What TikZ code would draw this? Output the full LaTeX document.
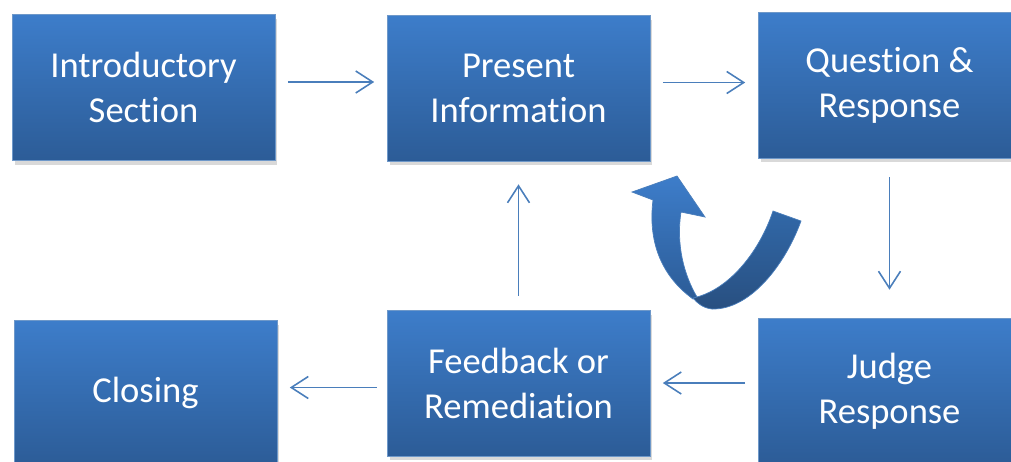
\documentclass[tikz,border=0pt]{standalone}
\usepackage{fontspec}
\setmainfont{Carlito}[Ligatures={NoCommon,NoContextual}]
\usetikzlibrary{positioning}
\usetikzlibrary{arrows.meta}
\usetikzlibrary{shadows}
\definecolor{boxtop}{HTML}{3D7DCA}
\definecolor{boxbot}{HTML}{2C5C97}
\definecolor{linkblue}{HTML}{4A7EBB}
\definecolor{bandtop}{HTML}{3168A8}
\definecolor{bandbot}{HTML}{284F80}
\tikzset{
    stagebox/.style = {rectangle, draw=linkblue!80, line width=0.4pt, top color=boxtop, bottom color=boxbot, minimum width=5.26cm, minimum height=2.92cm, align=center, text=white, font=\fontsize{20.8}{25.6}\selectfont, drop shadow={shadow xshift=0.5mm, shadow yshift=-0.9mm, opacity=0.3}},
    flow/.style = {-{Straight Barb[length=3.4mm,width=4.4mm]}, line width=0.9pt, linkblue, shorten <=0.25cm, shorten >=0.25cm},
    shaftpart/.style = {draw=linkblue, line width=0.4pt, top color=boxtop, bottom color=boxbot},
    bandpart/.style = {draw=linkblue, line width=0.4pt, top color=bandtop, bottom color=bandbot},
}
\begin{document}
\begin{tikzpicture}[x=0.02cm, y=-0.02cm]
\useasboundingbox (0,0) rectangle (1011,461);
%
\node[stagebox] at (143.5, 87.5) (intro) {Introductory\\Section};
\node[stagebox] at (518.5, 88) (pres) {Present\\Information};
\node[stagebox] at (889.5, 85) (ques) {Question \&\\Response};
\node[stagebox] at (145.5, 393) (clos) {Closing};
\node[stagebox] at (518.5, 383) (feed) {Feedback or\\Remediation};
\node[stagebox] at (889.5, 391) (judg) {Judge\\Response};
%
\draw[flow] ([yshift=0.11cm]intro.east) -- ([yshift=0.11cm]intro.east -| pres.west);
\draw[flow] ([yshift=0.11cm]pres.east) -- ([yshift=0.11cm]pres.east -| ques.west);
\draw[flow, shorten <=0.38cm, shorten >=0.56cm] (ques) -- (judg);
\draw[flow] (judg.west |- feed.east) -- (feed.east);
\draw[flow, shorten <=0.2cm] ([yshift=-0.09cm]feed.west) -- ([yshift=-0.09cm]feed.west -| clos.east);
\draw[flow, shorten <=0.28cm, shorten >=0.46cm] (feed) -- (pres);
%
\path[shaftpart] (653,200) -- (632,192) -- (677,176) -- (705,217) -- (681,212)
    .. controls (676,245) and (684,275) .. (697,297) -- (693,299)
    .. controls (660,275) and (648,240) .. (653,200) -- cycle;
\path[bandpart] (693,298) .. controls (730,290) and (760,250) .. (773,211) -- (801,221)
    .. controls (785,265) and (750,310) .. (712,309)
    .. controls (703,308) and (697,303) .. (693,298) -- cycle;

\end{tikzpicture}
\end{document}
